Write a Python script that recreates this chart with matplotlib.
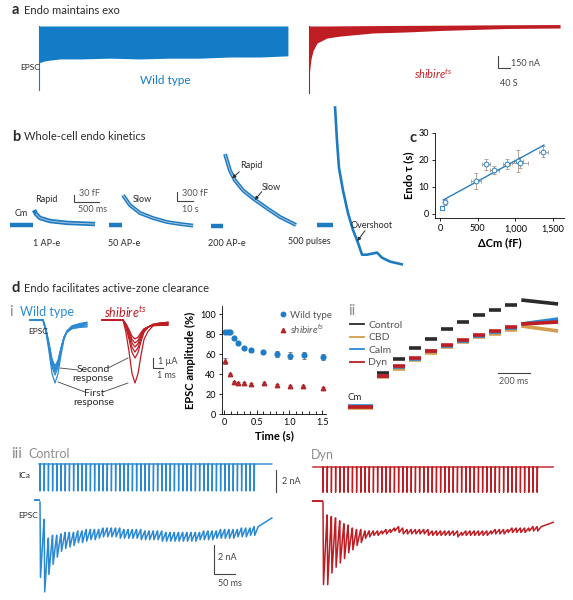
import numpy as np
import matplotlib
matplotlib.use('Agg')
import matplotlib.pyplot as plt
from matplotlib.lines import Line2D

W, H = 573, 600

plt.rcParams['font.family'] = ['Lato', 'DejaVu Sans']
plt.rcParams['mathtext.fontset'] = 'custom'
plt.rcParams['mathtext.rm'] = 'Lato'
plt.rcParams['mathtext.it'] = 'Lato:italic'
plt.rcParams['mathtext.bf'] = 'Lato:bold'

BLUE = '#127cc6'
BLUE_B = '#1d7bc2'
BLUE_III = '#2b89d3'
RED = '#bf1d24'
FIT = '#adc5dc'
CBD_C = '#d49c4c'
DARK = '#2a2a2a'
GREY = '#8c8c8c'

# ---------------- Daten ----------------
# a: EPSC-Huellkurve im langen Reiz (Zeit s, Amplitude nA)
a_wt_t = [0, 6.5, 19.5, 36, 68, 133, 231, 328, 426, 523, 621, 718, 809]
a_wt_amp = [475, 465, 450, 440, 425, 425, 415, 425, 415, 415, 400, 400, 385]
a_wt_first = 825
a_shi_t = [0, 6.5, 13, 26, 58.5, 101, 208, 318, 426, 533, 644, 816]
a_shi_amp = [645, 425, 320, 220, 155, 130, 90, 77, 58, 45, 32, 26]
a_shi_top = [0, 0, 0, 0, 0, 2, 5, 8, 10, 13, 16, 19]
a_shi_first = 865

# b: Kapazitaet nach Reiz (Zeit, dCm fF)
cm1_base_t = [-480, -20]
cm1_t = [0, 40, 120, 320, 660, 1220]          # ms
cm1 = [64, 47, 30, 17, 9, 4]
cm2_base_t = [-8.8, -0.8]
cm2_t = [0, 4.4, 10.6, 18.8, 27.5, 35.6, 43.8]  # s
cm2 = [990, 660, 400, 230, 100, 33, -20]
cm3_base_t = [-8.8, -1.2]
cm3_t = [0, 3.1, 6.25, 11.25, 17.5, 26.25, 34.4, 44.4]
cm3 = [2400, 1850, 1520, 1190, 920, 590, 300, 33]
cm4_base_t = [-11.2, -1.2]
cm4_t = [0, 1.25, 2.5, 5, 8.1, 11.25, 14.4, 16.9, 20, 26.25, 29.4, 34.4, 42.5]
cm4 = [3960, 2800, 1900, 1150, 400, -165, -600, -990, -990, -920, -1090, -1220, -1320]

# c: Endo tau gegen dCm
c_dcm = [31, 66, 478, 610, 721, 885, 1040, 1062, 1371]
c_tau = [2.3, 4.5, 12.2, 18.4, 16.3, 18.5, 19.6, 19.0, 23.1]
c_dcm_err = [0, 15, 60, 50, 60, 50, 60, 100, 60]
c_tau_err = [0, 1, 3, 2, 1.5, 2, 4, 2, 2]
c_fit_x = [44, 1380]
c_fit_y = [5.2, 25.5]

# d i: EPSC-Ueberlagerungen (ms, normierte Form, uA)
wt_wave_t = [0, 1.3, 1.6, 1.9, 2.2, 2.5, 2.8, 3.1, 3.4, 3.7, 4.2, 5.0, 5.7]
shi_wave_t = [0, 2.1, 2.4, 2.7, 3.0, 3.3, 3.6, 3.9, 4.2, 4.6, 5.1, 5.8, 6.6]
wave_shape = [0, 0, 0.2, 0.5, 0.85, 1.0, 0.85, 0.55, 0.3, 0.17, 0.08, 0.04, 0.02]
wave_tail = [0, 0, 0, 0, 0, 0, 0.2, 0.4, 0.6, 0.75, 0.85, 0.92, 1.0]
wt_peaks = [6.3, 5.5, 5.2, 5.0, 4.8, 4.6]
wt_tails = [0.1, 0.2, 0.3, 0.4, 0.5, 0.6]
shi_peaks = [6.3, 3.8, 3.2, 2.7, 2.3, 1.9]
shi_tails = [0.1, 0.15, 0.2, 0.3, 0.4, 0.5]

# d i: EPSC-Amplitude (%) gegen Zeit (s)
di_t_wt = [0.02, 0.06, 0.09, 0.15, 0.21, 0.31, 0.41, 0.6, 0.81, 1.01, 1.22, 1.52]
di_wt = [82, 82, 82, 76, 71, 66, 64, 62, 60, 58.5, 59, 57]
di_wt_err = [1, 1, 1, 1.5, 1.5, 1.5, 2, 2, 3, 3.5, 3.5, 3]
di_t_shi = [0.02, 0.09, 0.15, 0.21, 0.31, 0.41, 0.61, 0.81, 1.01, 1.21, 1.51]
di_shi = [53, 40, 32, 31, 31, 30, 31, 29, 28.5, 28.5, 26.5]
di_shi_err = [3, 1.5, 1.5, 1, 1.5, 1, 1, 1, 1, 1, 1]

# d ii: Cm-Stufen (ms, fF)
ii_base_t = [-181, -27]
ii_step_t = [0, 100, 200, 300, 400, 500, 600, 700, 800]
ii_step_len = 75
ii_last_t = [900, 1130]
ii_names = ['Control', 'CBD', 'Calm', 'Dyn']
cm_control = [170, 240, 295, 340, 390, 425, 460, 485, 510]
cm_control_last = [535, 515]
cm_cbd = [150, 190, 235, 270, 300, 325, 350, 365, 385]
cm_cbd_last = [405, 380]
cm_calm = [155, 200, 240, 280, 305, 330, 355, 375, 395]
cm_calm_last = [415, 440]
cm_dyn = [155, 205, 245, 280, 310, 335, 360, 380, 400]
cm_dyn_last = [415, 425]
cm_base = [0, -5, 5, 0]

# d iii: 100-Hz-Zug (ms, nA)
n_pulses = 52
stim_interval = 10
ica_ctrl_amp = 2.45
ica_dyn_amp = 2.3
ctrl_top = [1.2, 2.5, 2.3, 2.3, 2.2, 2.1, 2.1, 2.1, 2.0, 2.0,
            1.9, 1.9, 1.9, 1.9, 1.8, 1.8, 1.8, 1.8, 1.8, 1.9,
            1.9, 1.9, 1.9, 1.9, 2.0, 2.0, 2.0, 2.0, 2.0, 2.1,
            2.1, 2.1, 2.1, 2.1, 2.1, 2.1, 2.1, 2.1, 2.0, 2.0,
            2.0, 2.0, 1.9, 1.9, 1.9, 1.9, 1.9, 1.8, 1.8, 1.8,
            1.7, 1.7]
ctrl_peak = [5.2, 6.2, 5.0, 4.3, 3.8, 3.4, 3.2, 3.1, 3.0, 2.8,
             2.8, 2.7, 2.6, 2.6, 2.5, 2.4, 2.4, 2.4, 2.4, 2.5,
             2.5, 2.5, 2.5, 2.5, 2.6, 2.6, 2.6, 2.6, 2.6, 2.7,
             2.7, 2.7, 2.7, 2.7, 2.7, 2.7, 2.7, 2.7, 2.6, 2.6,
             2.6, 2.6, 2.5, 2.5, 2.5, 2.5, 2.5, 2.4, 2.4, 2.4,
             2.3, 2.3]
ctrl_end = [552, 1.1]
dyn_top = [0.9, 1.0, 1.1, 1.3, 1.5, 1.6, 1.8, 1.9, 1.9, 2.0,
           2.0, 2.0, 2.0, 2.0, 1.9, 1.9, 1.8, 1.7, 1.8, 1.9,
           1.9, 1.9, 1.9, 1.9, 1.9, 2.0, 2.0, 2.0, 2.0, 2.0,
           2.0, 2.0, 2.1, 2.0, 2.0, 2.0, 2.0, 2.0, 2.0, 2.0,
           1.9, 1.9, 1.9, 1.9, 1.8, 1.8, 1.8, 1.8, 1.8, 1.7,
           1.7, 1.7]
dyn_peak = [5.7, 5.7, 4.9, 4.5, 4.2, 3.9, 3.5, 3.3, 3.0, 2.8,
            2.5, 2.4, 2.3, 2.3, 2.2, 2.2, 2.1, 2.0, 2.1, 2.2,
            2.2, 2.2, 2.2, 2.2, 2.2, 2.3, 2.3, 2.3, 2.3, 2.3,
            2.3, 2.3, 2.4, 2.3, 2.3, 2.3, 2.3, 2.3, 2.3, 2.3,
            2.2, 2.2, 2.2, 2.2, 2.1, 2.1, 2.1, 2.1, 2.1, 2.0,
            2.0, 2.0]
dyn_end = [548, 1.4]

# ---------------- Hilfsfunktionen ----------------
fig = plt.figure(figsize=(W / 100, H / 100), dpi=100)

cv = fig.add_axes([0, 0, 1, 1])
cv.set_xlim(0, W)
cv.set_ylim(H, 0)
cv.axis('off')
cv.set_zorder(5)


def px_axes(x0, x1, y_top, y_bot):
    return fig.add_axes([x0 / W, 1 - y_bot / H, (x1 - x0) / W, (y_bot - y_top) / H])


def trace_axes(x0, x1, y_top, y_bot, x_zero, t_per_px, y_zero, v_per_px):
    # Achse ohne Rahmen, Massstab so dass die Spur im Bild die richtige Groesse hat
    ax = px_axes(x0, x1, y_top, y_bot)
    ax.set_xlim((x0 - x_zero) * t_per_px, (x1 - x_zero) * t_per_px)
    ax.set_ylim((y_zero - y_bot) * v_per_px, (y_zero - y_top) * v_per_px)
    ax.axis('off')
    return ax


def scalebar(ax, x, y, dx, dy, color='#444444'):
    ax.plot([x, x, x + dx], [y + dy, y, y], color=color, lw=0.8,
            clip_on=False, solid_joinstyle='miter')


def txt(x, y, s, size=6.5, color=DARK, ha='left', **kw):
    cv.text(x, y, s, fontsize=size, color=color, ha=ha, va='center', **kw)


def arrow(x0, y0, x1, y1):
    cv.annotate('', xy=(x1, y1), xytext=(x0, y0),
                arrowprops=dict(arrowstyle='-|>', lw=0.7, color=DARK,
                                mutation_scale=5, shrinkA=0, shrinkB=0))


def epsc_train(peaks, tops, end):
    t, y = [0], [0]
    prev = 0
    for k, (pk, tp) in enumerate(zip(peaks, tops)):
        tk = k * stim_interval
        t += [tk, tk + 1.2, tk + 9.6]
        y += [-prev, -pk, -tp]
        prev = tp
    t.append(end[0])
    y.append(-end[1])
    return t, y


def ica_train(amp, t_start, t_stop):
    t, y = [t_start], [0]
    for k in range(n_pulses):
        tk = k * stim_interval
        t += [tk - 0.3, tk, tk + 0.7]
        y += [0, -amp, 0]
    t.append(t_stop)
    y.append(0)
    return t, y


# ---------------- a ----------------
txt(12, 10, 'a', size=10.5, weight='bold')
txt(24, 10, 'Endo maintains exo', size=8)

A_S, A_NA = 3.25, 12.9
ax = trace_axes(30, 300, 18, 100, 39, A_S, 26, A_NA)
ax.fill_between(a_wt_t, 0, -np.array(a_wt_amp), color=BLUE, lw=0)
ax.plot([0, 0], [0, -a_wt_first], color=BLUE, lw=0.8)

ax = trace_axes(300, 570, 18, 100, 309, A_S, 26, A_NA)
ax.fill_between(a_shi_t, a_shi_top, -np.array(a_shi_amp), color=RED, lw=0)
ax.plot([0, 0], [0, -a_shi_first], color=RED, lw=0.8)
scalebar(ax, (498 - 309) * A_S, -(68 - 26) * A_NA, 40, 150)

txt(20, 68, 'EPSC', size=6)
txt(165, 80, 'Wild type', size=8.5, color=BLUE, ha='center')
txt(433, 74, r'$\mathit{shibire}^{ts}$', size=8, color=RED, ha='center')
txt(511, 64, '150 nA', size=6.5, color='#444444')
txt(509, 84, '40 S', size=6.5, color='#444444', ha='center')

# ---------------- b ----------------
txt(12, 137, 'b', size=10.5, weight='bold')
txt(24, 137, 'Whole-cell endo kinetics', size=8)

ax = trace_axes(5, 102, 180, 232, 34, 20, 225, 30 / 7)
ax.plot(cm1_base_t, [0, 0], color=BLUE_B, lw=3.2, solid_capstyle='butt')
ax.plot(cm1_t, cm1, color=BLUE_B, lw=3.2, solid_capstyle='butt')
ax.plot(cm1_t[1:], cm1[1:], color=FIT, lw=0.7)
scalebar(ax, 800, (225 - 202) * 30 / 7, 500, 30)

B_S, B_FF = 0.625, 300 / 9
ax = trace_axes(105, 200, 185, 232, 123, B_S, 225, B_FF)
ax.plot(cm2_base_t, [0, 0], color=BLUE_B, lw=3.2, solid_capstyle='butt')
ax.plot(cm2_t, cm2, color=BLUE_B, lw=2.8, solid_capstyle='butt')
ax.plot(cm2_t, cm2, color=FIT, lw=0.7)
scalebar(ax, (177 - 123) * B_S, (225 - 201) * B_FF, 10, 300)

ax = trace_axes(205, 300, 145, 232, 225, B_S, 226, B_FF)
ax.plot(cm3_base_t, [0, 0], color=BLUE_B, lw=3.2, solid_capstyle='butt')
ax.plot(cm3_t, cm3, color=BLUE_B, lw=2.8, solid_capstyle='butt')
ax.plot(cm3_t, cm3, color=FIT, lw=0.7)

ax = trace_axes(312, 410, 95, 272, 335, B_S, 225, B_FF)
ax.plot(cm4_base_t, [0, 0], color=BLUE_B, lw=3.2, solid_capstyle='butt')
ax.plot(cm4_t, cm4, color=BLUE_B, lw=1.9, solid_capstyle='butt')

txt(15, 214, 'Cm')
txt(46, 200, 'Rapid', ha='center')
txt(142, 200, 'Slow', ha='center')
txt(251, 165, 'Rapid', ha='center')
arrow(239.3, 171.7, 232.3, 178.3)
txt(271, 188, 'Slow', ha='center')
arrow(261.7, 191.7, 254.7, 200)
txt(372, 226, 'Overshoot', ha='center')
arrow(365, 230.7, 357.3, 241)
txt(79, 193, '30 fF', color='#555555')
txt(78, 210, '500 ms', color='#555555')
txt(182, 193, '300 fF', color='#555555')
txt(182, 210, '10 s', color='#555555')
txt(47, 243, '1 AP-e', ha='center')
txt(124, 243, '50 AP-e', ha='center')
txt(227, 243, '200 AP-e', ha='center')
txt(309, 242, '500 pulses', ha='center')

# ---------------- c ----------------
txt(409, 138, 'c', size=10.5, weight='bold')
ax = px_axes(435, 564, 133, 218)
ax.set_facecolor('none')
ax.errorbar(c_dcm, c_tau, xerr=c_dcm_err, yerr=c_tau_err, fmt='none',
            ecolor='#a89488', elinewidth=0.6, capsize=1.2, capthick=0.6)
ax.plot(c_fit_x, c_fit_y, color='#2a7fc0', lw=1.0)
ax.plot(c_dcm[:1], c_tau[:1], ls='none', marker='s', ms=3.2, mfc='white',
        mec='#3d8ccb', mew=0.8)
ax.plot(c_dcm[1:], c_tau[1:], ls='none', marker='o', ms=3.4, mfc='white',
        mec='#3d8ccb', mew=0.8)
ax.set_xlim(-66, 1646)
ax.set_ylim(-1.5, 30)
ax.set_xticks([0, 500, 1000, 1500])
ax.set_xticklabels(['0', '500', '1,000', '1,500'])
ax.set_yticks([0, 10, 20, 30])
for s in ['top', 'right']:
    ax.spines[s].set_visible(False)
for s in ['left', 'bottom']:
    ax.spines[s].set_linewidth(0.6)
ax.tick_params(labelsize=6.5, length=2.5, width=0.6, pad=2)
ax.set_xlabel('ΔCm (fF)', fontsize=8, weight='bold', labelpad=3)
ax.set_ylabel('Endo τ (s)', fontsize=8, weight='bold', labelpad=3)

# ---------------- d ----------------
txt(12, 288, 'd', size=10.5, weight='bold')
txt(24, 288, 'Endo facilitates active-zone clearance', size=8)

# i: Ueberlagerte EPSCs
ax = trace_axes(25, 95, 305, 392, 30, 0.1, 320, 0.1)
for pk, tl in zip(wt_peaks, wt_tails):
    y = -pk * np.array(wave_shape) - tl * np.array(wave_tail)
    ax.plot(wt_wave_t, y, color=BLUE_III, lw=0.9)
ax = trace_axes(98, 175, 305, 392, 102, 0.1, 320, 0.1)
for pk, tl in zip(shi_peaks, shi_tails):
    y = -pk * np.array(wave_shape) - tl * np.array(wave_tail)
    ax.plot(shi_wave_t, y, color=RED, lw=0.9)
scalebar(ax, 5.1, -4.8, 1, 1)

txt(9, 312, 'i', size=11, color=GREY)
txt(20, 312, 'Wild type', size=9, color=BLUE_III)
txt(104, 312, r'$\mathit{shibire}^{ts}$', size=9, color=RED)
txt(28, 332, 'EPSC', size=6)
txt(93, 374, 'Second\nresponse', size=7.5, ha='center', linespacing=1.0)
txt(94, 398, 'First\nresponse', size=7.5, ha='center', linespacing=1.0)
for seg in [((78, 370), (60, 368)), ((108, 368), (128, 358)),
            ((85, 392), (58, 382)), ((103, 392), (128, 383))]:
    cv.plot([seg[0][0], seg[1][0]], [seg[0][1], seg[1][1]], color='#444444', lw=0.6)
txt(158, 362, '1 µA', color='#444444')
txt(157, 376, '1 ms', color='#444444')

# i: EPSC-Amplitude
ax = px_axes(222, 326, 306, 414)
ax.set_facecolor('none')
ax.errorbar(di_t_wt, di_wt, yerr=di_wt_err, fmt='o', ms=3.4, color='#1f7cc7',
            ecolor='#555555', elinewidth=0.5, capsize=1.2, capthick=0.5)
ax.errorbar(di_t_shi, di_shi, yerr=di_shi_err, fmt='^', ms=3.2, color='#b3262c',
            ecolor='#555555', elinewidth=0.5, capsize=1.2, capthick=0.5)
ax.set_xlim(-0.03, 1.56)
ax.set_ylim(0, 108)
ax.set_xticks([0, 0.5, 1.0, 1.5])
ax.set_xticklabels(['0', '0.5', '1.0', '1.5'])
ax.set_xticks(np.arange(0, 1.55, 0.1), minor=True)
ax.set_yticks([0, 20, 40, 60, 80, 100])
for s in ['top', 'right']:
    ax.spines[s].set_visible(False)
for s in ['left', 'bottom']:
    ax.spines[s].set_linewidth(0.6)
ax.tick_params(axis='x', which='both', direction='in', labelsize=6.5, width=0.6, pad=3)
ax.tick_params(axis='x', which='major', length=3)
ax.tick_params(axis='x', which='minor', length=2)
ax.tick_params(axis='y', labelsize=6.5, length=2.5, width=0.6, pad=2)
ax.set_xlabel('Time (s)', fontsize=8, weight='bold', labelpad=2)
ax.set_ylabel('EPSC amplitude (%)', fontsize=8, weight='bold', labelpad=3)
handles = [Line2D([], [], ls='none', marker='o', ms=3.2, color='#1f7cc7'),
           Line2D([], [], ls='none', marker='^', ms=3.2, color='#b3262c')]
ax.legend(handles, ['Wild type', r'$\mathit{shibire}^{ts}$'], loc='upper left',
          bbox_to_anchor=(0.5, 1.0), frameon=False, fontsize=7,
          handlelength=0.8, handletextpad=0.3, labelspacing=0.25, borderpad=0,
          labelcolor='#555555')

# ii: Cm-Stufen
ax = trace_axes(340, 565, 295, 415, 377.3, 6.25, 407, 5)
ii_colors = [DARK, CBD_C, BLUE_III, RED]
ii_levels = [cm_control, cm_cbd, cm_calm, cm_dyn]
ii_last = [cm_control_last, cm_cbd_last, cm_calm_last, cm_dyn_last]
for col, lev, last, base in zip(ii_colors, ii_levels, ii_last, cm_base):
    ax.plot(ii_base_t, [base, base], color=col, lw=2.6, solid_capstyle='butt')
    for t0, v in zip(ii_step_t, lev):
        ax.plot([t0, t0 + ii_step_len], [v, v], color=col, lw=2.6, solid_capstyle='butt')
    ax.plot(ii_last_t, last, color=col, lw=2.6, solid_capstyle='butt')
scalebar(ax, 754, 170, 200, 0)
handles = [Line2D([], [], color=c, lw=1.3) for c in ii_colors]
ax.legend(handles, ii_names, loc='upper left', bbox_to_anchor=(0.02, 0.83),
          frameon=False, fontsize=7.5, handlelength=1.4, handletextpad=0.4,
          labelspacing=0.3, borderpad=0, labelcolor='#555555')
txt(348, 311, 'ii', size=11, color=GREY)
txt(348, 398, 'Cm', size=7)
txt(514, 382, '200 ms', color='#555555', ha='center')

# iii: ICa und EPSC im 100-Hz-Zug
IT = 50 / 21
ax = trace_axes(30, 300, 455, 497, 40, IT, 464, 2 / 22)
t, y = ica_train(ica_ctrl_amp, -2.4, 552)
ax.plot(t, y, color=BLUE_III, lw=1.0)
scalebar(ax, (276 - 40) * IT, -(492 - 464) * 2 / 22, 0, 2)

ax = trace_axes(30, 300, 495, 600, 40, IT, 502, 2 / 29)
ax.plot([-12, -2], [0.15, 0.15], color=BLUE_III, lw=1.4)
t, y = epsc_train(ctrl_peak, ctrl_top, ctrl_end)
ax.plot(t, y, color=BLUE_III, lw=1.1)
scalebar(ax, (214 - 40) * IT, -(574 - 502) * 2 / 29, 50, 2)

ax = trace_axes(305, 565, 455, 497, 323, IT, 467, 2 / 22)
t, y = ica_train(ica_dyn_amp, -24, 548)
ax.plot(t, y, color=RED, lw=1.0)

ax = trace_axes(305, 565, 495, 600, 323, IT, 502, 2 / 29)
ax.plot([-24, -2], [0.1, 0.1], color=RED, lw=1.4)
t, y = epsc_train(dyn_peak, dyn_top, dyn_end)
ax.plot(t, y, color=RED, lw=1.1)

txt(11, 454, 'iii', size=11, color=GREY)
txt(28, 454, 'Control', size=9, color=GREY)
txt(311, 455, 'Dyn', size=9, color=GREY)
txt(18, 476, 'ICa', size=6)
txt(18, 515, 'EPSC', size=6)
txt(282, 482, '2 nA', color='#444444')
txt(218, 558, '2 nA', color='#444444')
txt(218, 583, '50 ms', color='#444444')

fig.savefig('out.png', dpi=100)
